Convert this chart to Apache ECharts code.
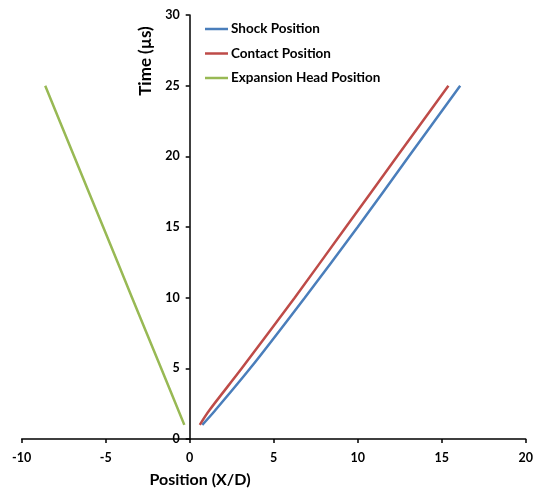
<!DOCTYPE html>
<html>
<head>
<meta charset="utf-8">
<style>
  html, body { margin: 0; padding: 0; background: #fff; }
  #chart { width: 543px; height: 488px; }
</style>
<script src="https://cdn.jsdelivr.net/npm/echarts@6/dist/echarts.min.js"></script>
</head>
<body>
<div id="chart"></div>
<script>
// Time samples (µs) and positions (X/D) of the three wave fronts
const shockTime = [1, 2, 5, 10, 15, 20, 25];
const shockPos = [0.75, 1.5, 3.6, 6.85, 10.0, 13.05, 16.1];

const contactTime = [1, 2, 5, 10, 15, 20, 25];
const contactPos = [0.6, 1.15, 3.1, 6.25, 9.3, 12.35, 15.4];

const headTime = [1, 5, 10, 15, 20, 25];
const headPos = [-0.32, -1.7, -3.43, -5.15, -6.88, -8.6];

const xTicks = [-10, -5, 0, 5, 10, 15, 20];
const yTicks = [0, 5, 10, 15, 20, 25, 30];

const seriesNames = ['Shock Position', 'Contact Position', 'Expansion Head Position'];
const seriesColors = ['#4a7ebb', '#be4b48', '#98b954'];

const FONT = 'Lato';

const GRID = { left: 21.7, right: 17.3, top: 15, bottom: 49 };
const CHART_W = 543;

function pairs(xs, ys) {
  return xs.map((x, i) => [x, ys[i]]);
}

// The vertical axis sits at X/D = 0, with its labels beside it
const xMin = xTicks[0], xMax = xTicks[xTicks.length - 1];
const plotW = CHART_W - GRID.left - GRID.right;
const yAxisOffset = -((0 - xMin) / (xMax - xMin)) * plotW;

const chart = echarts.init(document.getElementById('chart'), null, { renderer: 'canvas' });

const axisText = { color: '#000', fontFamily: FONT, fontWeight: 'bold', fontSize: 12.5 };

function lineSeries(name, color, data) {
  return {
    name: name,
    type: 'line',
    data: data,
    symbol: 'none',
    smooth: 0.3,
    lineStyle: { color: color, width: 2.5 },
    itemStyle: { color: color },
    animation: false
  };
}

chart.setOption({
  backgroundColor: '#fff',
  animation: false,
  grid: GRID,
  legend: {
    orient: 'vertical',
    left: 200,
    top: 17,
    icon: 'rect',
    itemWidth: 23,
    itemHeight: 2.5,
    itemGap: 10.5,
    data: seriesNames,
    textStyle: { color: '#000', fontFamily: FONT, fontWeight: 'bold', fontSize: 13.5, padding: [0, 0, 0, -2] }
  },
  xAxis: {
    type: 'value',
    min: xMin,
    max: xMax,
    interval: 5,
    axisLine: { onZero: true, lineStyle: { color: '#000', width: 1.5 } },
    axisTick: { show: true, length: 4, lineStyle: { color: '#000', width: 1.5 } },
    axisLabel: Object.assign({ margin: 12, formatter: v => String(v) }, axisText),
    splitLine: { show: false }
  },
  yAxis: {
    type: 'value',
    min: yTicks[0],
    max: yTicks[yTicks.length - 1],
    interval: 5,
    offset: yAxisOffset,
    axisLine: { onZero: false, lineStyle: { color: '#000', width: 1.5 } },
    axisTick: { show: true, length: 4, lineStyle: { color: '#000', width: 1.5 } },
    axisLabel: Object.assign({ margin: 10, formatter: v => String(v) }, axisText),
    splitLine: { show: false }
  },
  graphic: [
    {
      type: 'text',
      x: 200,
      y: 480,
      style: {
        text: 'Position (X/D)',
        fill: '#000',
        font: 'bold 16px ' + FONT,
        align: 'center',
        verticalAlign: 'middle'
      }
    },
    {
      type: 'text',
      x: 146,
      y: 61,
      rotation: Math.PI / 2,
      style: {
        text: 'Time (µs)',
        fill: '#000',
        font: 'bold 17px ' + FONT,
        align: 'center',
        verticalAlign: 'middle'
      }
    }
  ],
  series: [
    lineSeries(seriesNames[0], seriesColors[0], pairs(shockPos, shockTime)),
    lineSeries(seriesNames[1], seriesColors[1], pairs(contactPos, contactTime)),
    lineSeries(seriesNames[2], seriesColors[2], pairs(headPos, headTime))
  ]
});
</script>
</body>
</html>
